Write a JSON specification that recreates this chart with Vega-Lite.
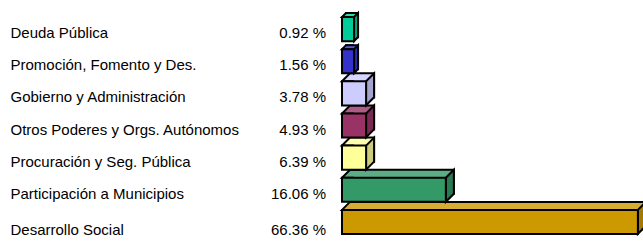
{
  "$schema": "https://vega.github.io/schema/vega-lite/v6.json",
  "width": 301,
  "height": 225,
  "autosize": "none",
  "padding": {"left": 342, "top": 13, "right": 0, "bottom": 3},
  "background": "white",
  "config": {"view": {"stroke": null}, "font": "Liberation Sans"},
  "data": {"values": [
    {"rubro": "Deuda Pública", "porcentaje": 0.92, "barra": 4},
    {"rubro": "Promoción, Fomento y Des.", "porcentaje": 1.56, "barra": 4},
    {"rubro": "Gobierno y Administración", "porcentaje": 3.78, "barra": 8},
    {"rubro": "Otros Poderes y Orgs. Autónomos", "porcentaje": 4.93, "barra": 8},
    {"rubro": "Procuración y Seg. Pública", "porcentaje": 6.39, "barra": 8},
    {"rubro": "Participación a Municipios", "porcentaje": 16.06, "barra": 34.5},
    {"rubro": "Desarrollo Social", "porcentaje": 66.36, "barra": 98.3}
  ]},
  "resolve": {"scale": {"color": "independent"}},
  "layer": [
    {
      "mark": {"type": "bar", "xOffset": {"expr": "datum.barra < 5 ? 4 : 8"}, "x2Offset": {"expr": "datum.barra < 5 ? 4 : 8"}, "yOffset": {"expr": "datum.barra < 5 ? -4 : -8"}, "stroke": "black", "strokeWidth": 2, "opacity": 1},
      "encoding": {
        "y": {"field": "rubro", "type": "nominal", "sort": null, "scale": {"type": "band", "paddingInner": 0.25, "paddingOuter": 0.125},
          "axis": {"title": null, "domain": false, "ticks": false, "tickSize": 0, "labelAlign": "left", "labelPadding": 332, "labelFont": "Liberation Sans", "labelFontSize": 15, "labelColor": "black", "labelBaseline": "middle", "labelOffset": {"condition": {"test": "datum.value === 'Desarrollo Social'", "value": 8}, "value": 4}, "labelLimit": 0}},
        "x": {"field": "barra", "type": "quantitative", "scale": {"domain": [0, 100], "nice": false, "zero": true}, "axis": null},
        "color": {"field": "rubro", "type": "nominal", "legend": null, "scale": {"domain": ["Deuda Pública", "Promoción, Fomento y Des.", "Gobierno y Administración", "Otros Poderes y Orgs. Autónomos", "Procuración y Seg. Pública", "Participación a Municipios", "Desarrollo Social"], "range": ["#33D6AD", "#5C5CD6", "#D6D6FF", "#AD5C85", "#FFFFAD", "#5CAD85", "#D6AD33"]}}
      }
    },
    {
      "mark": {"type": "point", "filled": true, "opacity": 1, "size": 1024, "stroke": "black", "strokeWidth": 2},
      "encoding": {
        "y": {"field": "rubro", "type": "nominal", "sort": null, "bandPosition": 0},
        "x": {"datum": 0, "type": "quantitative"},
        "shape": {"condition": {"test": "datum.barra < 5", "value": "M0.75,0L0,0L0.25,-0.25L0.75,-0.25"}, "value": "M0.75,0L0,0L0.5,-0.5L0.75,-0.5"},
        "color": {"field": "rubro", "type": "nominal", "legend": null, "scale": {"domain": ["Deuda Pública", "Promoción, Fomento y Des.", "Gobierno y Administración", "Otros Poderes y Orgs. Autónomos", "Procuración y Seg. Pública", "Participación a Municipios", "Desarrollo Social"], "range": ["#33D6AD", "#5C5CD6", "#D6D6FF", "#AD5C85", "#FFFFAD", "#5CAD85", "#D6AD33"]}}
      }
    },
    {
      "mark": {"type": "point", "filled": true, "opacity": 1, "size": 1024, "stroke": "black", "strokeWidth": 2},
      "encoding": {
        "y": {"field": "rubro", "type": "nominal", "sort": null, "bandPosition": 0},
        "x": {"field": "barra", "type": "quantitative"},
        "shape": {"condition": {"test": "datum.barra < 5", "value": "M0,0L0.25,-0.25L0.25,1.25L0,1.5Z"}, "value": "M0,0L0.5,-0.5L0.5,1L0,1.5Z"},
        "color": {"field": "rubro", "type": "nominal", "legend": null, "scale": {"domain": ["Deuda Pública", "Promoción, Fomento y Des.", "Gobierno y Administración", "Otros Poderes y Orgs. Autónomos", "Procuración y Seg. Pública", "Participación a Municipios", "Desarrollo Social"], "range": ["#00A37A", "#2929A3", "#A3A3CC", "#7A2952", "#CCCC7A", "#297A52", "#A37A00"]}}
      }
    },
    {
      "mark": {"type": "bar", "stroke": "black", "strokeWidth": 2, "opacity": 1},
      "encoding": {
        "y": {"field": "rubro", "type": "nominal", "sort": null},
        "x": {"field": "barra", "type": "quantitative"},
        "color": {"field": "rubro", "type": "nominal", "legend": null, "scale": {"domain": ["Deuda Pública", "Promoción, Fomento y Des.", "Gobierno y Administración", "Otros Poderes y Orgs. Autónomos", "Procuración y Seg. Pública", "Participación a Municipios", "Desarrollo Social"], "range": ["#00CC99", "#3333CC", "#CCCCFF", "#993366", "#FFFF99", "#339966", "#CC9900"]}}
      }
    },
    {
      "mark": {"type": "text", "align": "right", "baseline": "middle", "dx": -16, "dy": {"expr": "datum.rubro === 'Desarrollo Social' ? 8 : 4"}, "font": "Liberation Sans", "fontSize": 15, "color": "black", "text": {"expr": "format(datum.porcentaje, '.2f') + ' %'"}},
      "encoding": {
        "y": {"field": "rubro", "type": "nominal", "sort": null},
        "x": {"datum": 0, "type": "quantitative"}
      }
    }
  ]
}
